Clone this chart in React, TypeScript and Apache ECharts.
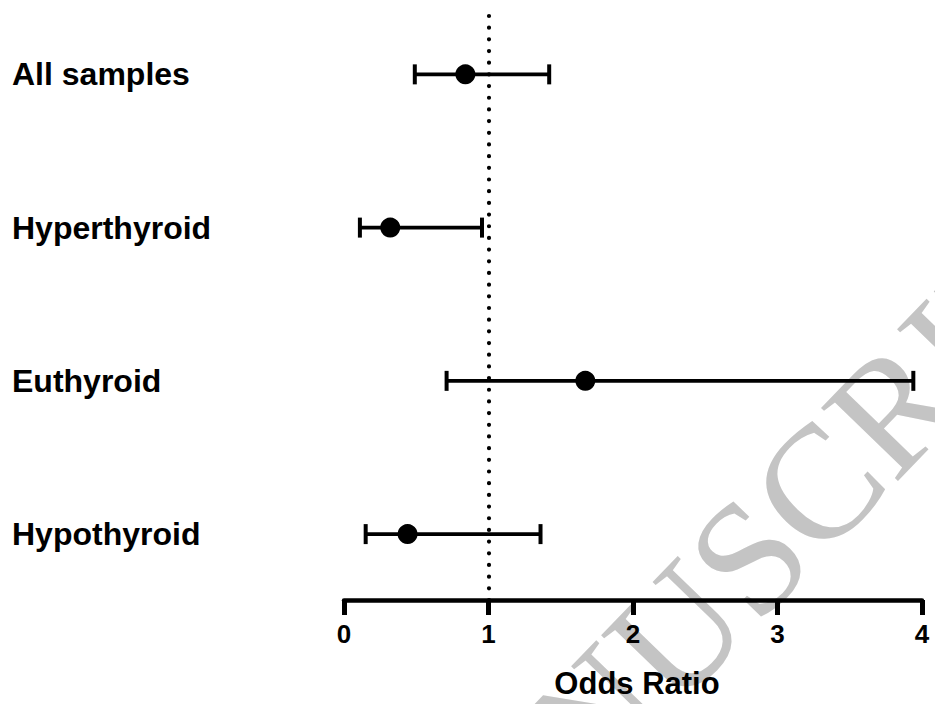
import React, { useEffect, useRef } from "react";
import * as echarts from "echarts";

const categories = ["All samples", "Hyperthyroid", "Euthyroid", "Hypothyroid"];
const oddsRatio = [0.84, 0.32, 1.67, 0.44];
const ciLower = [0.49, 0.11, 0.71, 0.15];
const ciUpper = [1.42, 0.955, 3.94, 1.36];
const xTicks = [0, 1, 2, 3, 4];
const referenceLine = 1;
const watermark = "MANUSCRIPT";

const FONT = "'Liberation Sans', Arial, Helvetica, sans-serif";

export default function App() {
  const ref = useRef<HTMLDivElement>(null);

  useEffect(() => {
    if (!ref.current) return;
    const chart = echarts.init(ref.current, null, { renderer: "svg" });
    const n = categories.length;
    const rowY = categories.map((_, i) => n - i);

    const pointData = oddsRatio.map((v, i) => [v, rowY[i]]);
    const barData = categories.map((_, i) => [ciLower[i], ciUpper[i], rowY[i]]);

    const option: any = {
      animation: false,
      backgroundColor: "#ffffff",
      graphic: [
        {
          type: "text",
          z: -10,
          x: 736,
          y: 570,
          rotation: (46 * Math.PI) / 180,
          silent: true,
          style: {
            text: watermark,
            font: "162px 'Liberation Serif', 'Times New Roman', serif",
            fill: "#c4c4c4",
            align: "center",
            verticalAlign: "middle",
          },
        },
      ],
      grid: { left: 344, right: 13, top: 10, bottom: 104, containLabel: false },
      xAxis: {
        type: "value",
        min: xTicks[0],
        max: xTicks[xTicks.length - 1],
        interval: 1,
        splitLine: { show: false },
        axisLine: { show: true, lineStyle: { color: "#000", width: 4.5 } },
        axisTick: { show: true, length: 15, lineStyle: { color: "#000", width: 5 } },
        axisLabel: {
          color: "#000",
          fontFamily: FONT,
          fontWeight: "bold",
          fontSize: 26,
          margin: 21,
        },
        name: "Odds Ratio",
        nameLocation: "middle",
        nameGap: 68,
        nameTextStyle: {
          color: "#000",
          fontFamily: FONT,
          fontWeight: "bold",
          fontSize: 31,
          padding: [0, 0, 0, 8],
        },
      },
      yAxis: {
        type: "value",
        min: 0.57,
        max: 4.42,
        splitLine: { show: false },
        axisLine: { show: false },
        axisTick: { show: false },
        axisLabel: {
          show: true,
          customValues: rowY,
          formatter: (v: number) => categories[n - Math.round(v)],
          align: "left",
          margin: 332,
          color: "#000",
          fontFamily: FONT,
          fontWeight: "bold",
          fontSize: 32,
        },
      },
      series: [
        {
          type: "custom",
          z: 3,
          data: barData,
          encode: { x: [0, 1], y: 2 },
          renderItem: (params: any, api: any) => {
            const lo = api.coord([api.value(0), api.value(2)]);
            const hi = api.coord([api.value(1), api.value(2)]);
            const cap = 10;
            const style = { stroke: "#000", lineWidth: 3.6 };
            return {
              type: "group",
              children: [
                { type: "line", shape: { x1: lo[0], y1: lo[1], x2: hi[0], y2: hi[1] }, style },
                {
                  type: "line",
                  shape: { x1: lo[0], y1: lo[1] - cap, x2: lo[0], y2: lo[1] + cap },
                  style: { stroke: "#000", lineWidth: 4 },
                },
                {
                  type: "line",
                  shape: { x1: hi[0], y1: hi[1] - cap, x2: hi[0], y2: hi[1] + cap },
                  style: { stroke: "#000", lineWidth: 4 },
                },
              ],
            };
          },
        },
        {
          type: "scatter",
          z: 4,
          data: pointData,
          symbol: "circle",
          symbolSize: 20,
          itemStyle: { color: "#000", opacity: 1 },
          markLine: {
            silent: true,
            symbol: "none",
            label: { show: false },
            lineStyle: { color: "#000", width: 4.2, type: [0.01, 11.67], cap: "round", opacity: 1 },
            data: [{ xAxis: referenceLine }],
          },
        },
      ],
    };

    chart.setOption(option);
    return () => chart.dispose();
  }, []);

  return (
    <div
      ref={ref}
      style={{ position: "fixed", left: 0, top: 0, width: 935, height: 704, background: "#fff" }}
    />
  );
}
